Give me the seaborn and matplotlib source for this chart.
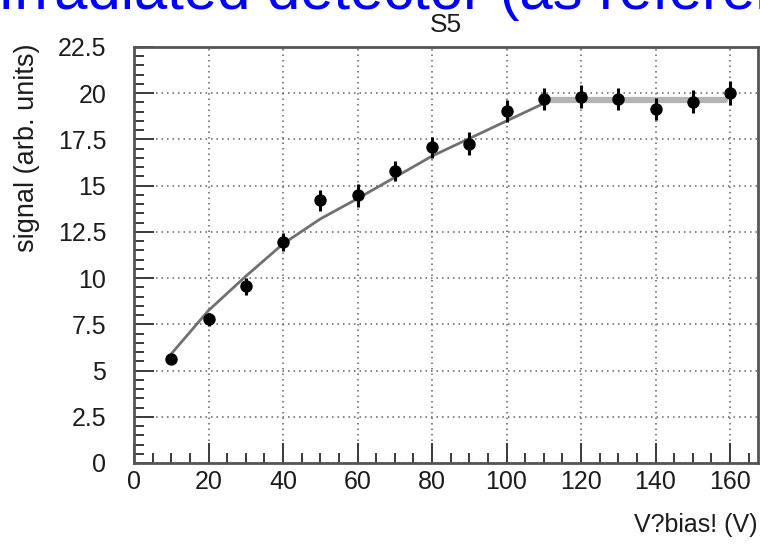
import matplotlib
matplotlib.use("Agg")
import matplotlib.pyplot as plt
from matplotlib.ticker import MultipleLocator, FuncFormatter
import seaborn as sns
import pandas as pd

# Measured signal vs bias voltage
bias_v = [10, 20, 30, 40, 50, 60, 70, 80, 90, 100, 110, 120, 130, 140, 150, 160]
signal = [5.6, 7.77, 9.55, 11.94, 14.2, 14.47, 15.8, 17.07, 17.28, 19.06,
          19.67, 19.82, 19.69, 19.15, 19.55, 20.0]
signal_err = [0.25, 0.35, 0.45, 0.5, 0.55, 0.6, 0.55, 0.55, 0.6, 0.6,
              0.6, 0.6, 0.6, 0.6, 0.6, 0.65]
bias_err = [1.3] * len(bias_v)

# Fitted depletion curve (rising part) and plateau
fit_v = [10, 20, 30, 40, 50, 60, 70, 80, 90, 100, 110]
fit_s = [5.9, 8.25, 10.1, 11.85, 13.2, 14.3, 15.45, 16.6, 17.55, 18.5, 19.45]
plateau_v = [110, 158.7]
plateau_s = [19.63, 19.63]

x_ticks = [0, 20, 40, 60, 80, 100, 120, 140, 160]
title = "S5"
banner = "Irradiated detector (as reference)"
xlabel = "V?bias! (V)"
ylabel = "signal (arb. units)"

sns.set_theme(style="white")
plt.rcParams["font.family"] = ["Liberation Sans", "DejaVu Sans"]
ink = "#1c1c1c"

fig = plt.figure(figsize=(7.6, 5.45), dpi=100)
ax = fig.add_axes([134 / 760, 1 - 463 / 545, 624 / 760, 416 / 545])

pts = pd.DataFrame({"V": bias_v, "S": signal})
fit = pd.DataFrame({"V": fit_v, "S": fit_s})
flat = pd.DataFrame({"V": plateau_v, "S": plateau_s})

sns.lineplot(data=flat, x="V", y="S", ax=ax, color="#b4b4b4", linewidth=4.5,
             zorder=3)
sns.lineplot(data=fit, x="V", y="S", ax=ax, color="#707070", linewidth=2.0,
             zorder=3)
ax.errorbar(bias_v, signal, yerr=signal_err, xerr=bias_err, fmt="none",
            ecolor="black", elinewidth=2.2, capsize=0, zorder=4)
sns.scatterplot(data=pts, x="V", y="S", ax=ax, color="black", s=80,
                edgecolor="black", linewidth=0, zorder=5)

ax.set_xlim(0, 167.5)
ax.set_ylim(0, 22.5)
ax.set_xticks(x_ticks)
ax.xaxis.set_minor_locator(MultipleLocator(5))
ax.yaxis.set_major_locator(MultipleLocator(2.5))
ax.yaxis.set_minor_locator(MultipleLocator(0.5))
ax.yaxis.set_major_formatter(FuncFormatter(lambda v, p: f"{v:g}"))

ax.grid(True, which="major", color="#606060", linestyle=(0, (1.0, 2.6)),
        linewidth=1.1)
ax.tick_params(which="major", direction="in", length=14.5, width=1.4,
               color="#3a3a3a", labelsize=18, labelcolor=ink)
ax.tick_params(which="minor", direction="in", length=7.5, width=1.4,
               color="#3a3a3a")
ax.tick_params(axis="x", which="both", top=False, bottom=True, pad=5)
ax.tick_params(axis="y", which="both", left=True, right=False, pad=20)
for side in ax.spines.values():
    side.set_color("#555555")
    side.set_linewidth(2.0)

ax.set_xlabel(xlabel, fontsize=18, color=ink, loc="right")
ax.xaxis.set_label_coords(1.0, -0.12)

ax.set_ylabel(ylabel, fontsize=19.5, color=ink)
ax.yaxis.label.set_rotation_mode("default")
ax.yaxis.label.set_horizontalalignment("center")
ax.yaxis.label.set_verticalalignment("top")
ax.yaxis.set_label_coords(-(134 - 27) / 624, (463 - 43) / 416)

ax.set_title(title, fontsize=19, color=ink, pad=11)

fig.text(-0.002, 1 - 9 / 545, banner, color="#0000ff", fontsize=43,
         ha="left", va="baseline")

fig.savefig("out.png", dpi=100)
